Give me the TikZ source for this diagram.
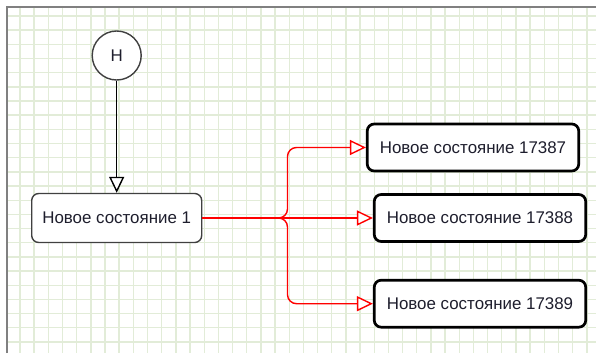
\documentclass[tikz,border=0pt]{standalone}
\usepackage{fontspec}
\setmainfont{Liberation Sans}
\usetikzlibrary{arrows.meta}
\definecolor{gridc}{RGB}{226,236,216}
\definecolor{framec}{RGB}{128,128,128}
\definecolor{boxgray}{RGB}{64,64,64}
\definecolor{txt}{RGB}{30,30,45}
\begin{document}
\begin{tikzpicture}[x=1pt,y=-1pt,
  statebox/.style={draw=boxgray, line width=1.4pt, rounded corners=7pt, fill=white,
    minimum width=170pt, minimum height=49pt, inner sep=0pt, text=txt,
    font=\fontsize{16.9}{19}\selectfont},
  targetbox/.style={statebox, draw=black, line width=2.7pt, minimum width=211.5pt, minimum height=47pt},
  initnode/.style={circle, draw=boxgray, line width=1.4pt, fill=white, minimum size=49pt,
    inner sep=0pt, text=txt, font=\fontsize{16.9}{19}\selectfont},
  blackarr/.style={draw=black, line width=1.4pt, -{Triangle[length=16pt,width=15pt,fill=white]}},
  redarr/.style={draw=red, line width=1.4pt, -{Triangle[length=16pt,width=15pt,fill=white]}}
]
\useasboundingbox (0,0) rectangle (596,353);
\fill[white] (0,0) rectangle (596,353);
% grid
\foreach \k in {0,...,40} {\draw[gridc, line width=1.4pt] ({20+14.17*\k},8) -- ({20+14.17*\k},353);}
\foreach \k in {0,...,23} {\draw[gridc, line width=1.4pt] (8,{16+14.17*\k}) -- (596,{16+14.17*\k});}
% frame
\draw[framec, line width=2pt] (7,353) -- (7,7) -- (596,7);
% nodes
\node[initnode] (h) at (116.7,55.5) {Н};
\node[statebox] (s1) at (116.7,218) {Новое состояние 1};
\node[targetbox] (a) at (473,147.5) {Новое состояние 17387};
\node[targetbox] (b) at (480,218) {Новое состояние 17388};
\node[targetbox] (c) at (480,303.7) {Новое состояние 17389};
\coordinate (J) at (278,218);
\coordinate (V) at (287.5,0);
% connectors
\draw[blackarr] (h) -- (s1);
\draw[redarr] (s1.east) -- (b.west);
\draw[redarr, rounded corners=9pt] (J) -| (V |- a.west) -- (a.west);
\draw[redarr, rounded corners=9pt] (J) -| (V |- c.west) -- (c.west);
\end{tikzpicture}
\end{document}
